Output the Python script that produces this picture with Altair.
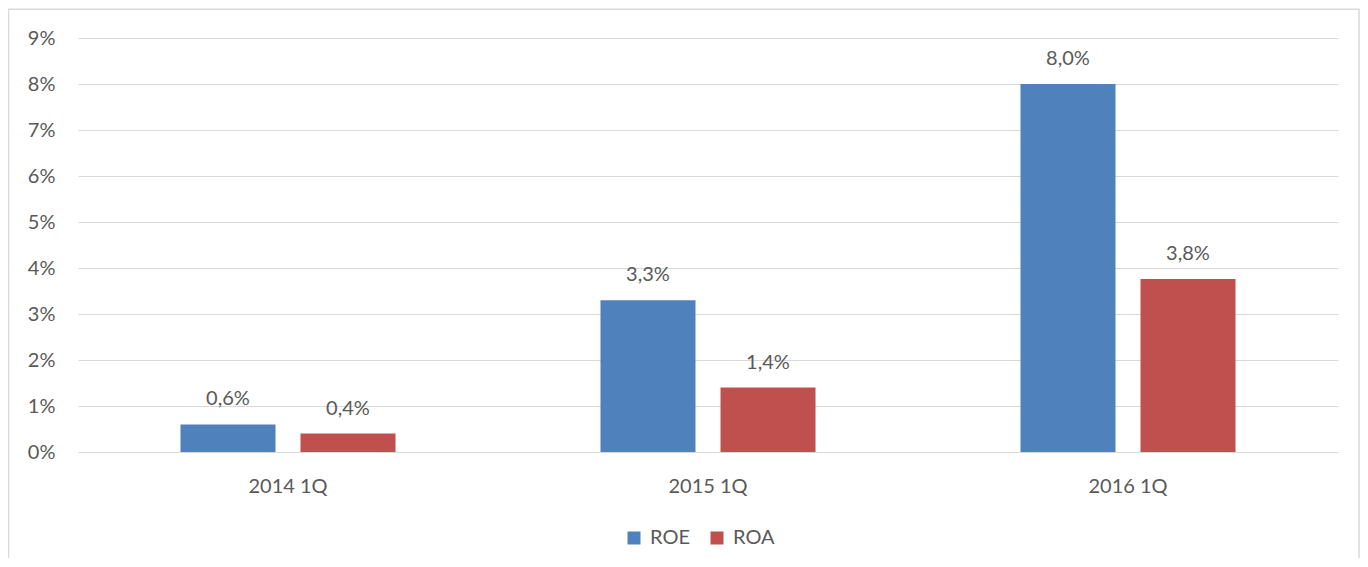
import altair as alt
import pandas as pd

quarters = ["2014 1Q", "2015 1Q", "2016 1Q"]
roe = [0.006, 0.033, 0.080]
roa = [0.004, 0.014, 0.0376]
series = ["ROE", "ROA"]
colors = ["#4F81BD", "#C0504D"]
y_ticks = [i / 100 for i in range(10)]

rows = []
for i, q in enumerate(quarters):
    rows.append({"quarter": q, "series": "ROE", "value": roe[i]})
    rows.append({"quarter": q, "series": "ROA", "value": roa[i]})
df = pd.DataFrame(rows)

FONT = "Lato"
TXT = "#595959"
W, H = 1260, 414

base = alt.Chart(df).encode(
    x=alt.X("quarter:N", sort=quarters, title=None,
            scale=alt.Scale(paddingInner=0.4286, paddingOuter=0.2143),
            axis=alt.Axis(labelAngle=0, domain=False, ticks=False, labelPadding=24,
                          labelFontSize=20, labelColor=TXT, labelFont=FONT, grid=False)),
    xOffset=alt.XOffset("series:N", sort=series,
                        scale=alt.Scale(paddingInner=0.2083, paddingOuter=0.104)),
    y=alt.Y("value:Q", title=None,
            scale=alt.Scale(domain=[0, 0.09], nice=False),
            axis=alt.Axis(values=y_ticks, format=".0%", domain=False, ticks=False,
                          labelPadding=23, labelFontSize=20, labelColor=TXT, labelFont=FONT,
                          grid=True, gridColor="#d9d9d9", gridWidth=1.2)),
)

bars = base.mark_bar().encode(
    color=alt.Color("series:N", sort=series,
                    scale=alt.Scale(domain=series, range=colors),
                    legend=alt.Legend(title=None, orient="none", direction="horizontal",
                                      legendX=546, legendY=490, symbolType="square",
                                      symbolSize=169, symbolStrokeWidth=0, labelFontSize=20,
                                      labelColor=TXT, labelFont=FONT, labelOffset=6,
                                      columnPadding=17))
)

labels = base.mark_text(baseline="middle", dy=-25, fontSize=20, font=FONT, color=TXT).transform_calculate(
    lbl="replace(format(datum.value, '.1%'), '.', ',')"
).encode(text="lbl:N")

frame = alt.Chart(pd.DataFrame({"a": [0]})).mark_rect(
    fill=None, stroke="#d9d9d9", strokeWidth=1.5, clip=False
).encode(
    x=alt.value(-69.5), x2=alt.value(1281), y=alt.value(-28.7), y2=alt.value(560)
)

chart = alt.layer(frame, bars, labels).properties(
    width=W, height=H,
    autosize=alt.AutoSizeParams(type="none"),
    padding={"left": 70, "top": 30, "right": 22, "bottom": 106},
).configure(
    background="white",
    view=alt.ViewConfig(stroke="transparent", strokeWidth=0),
)

chart.save("out.html", embed_options={"renderer": "svg", "actions": False})
